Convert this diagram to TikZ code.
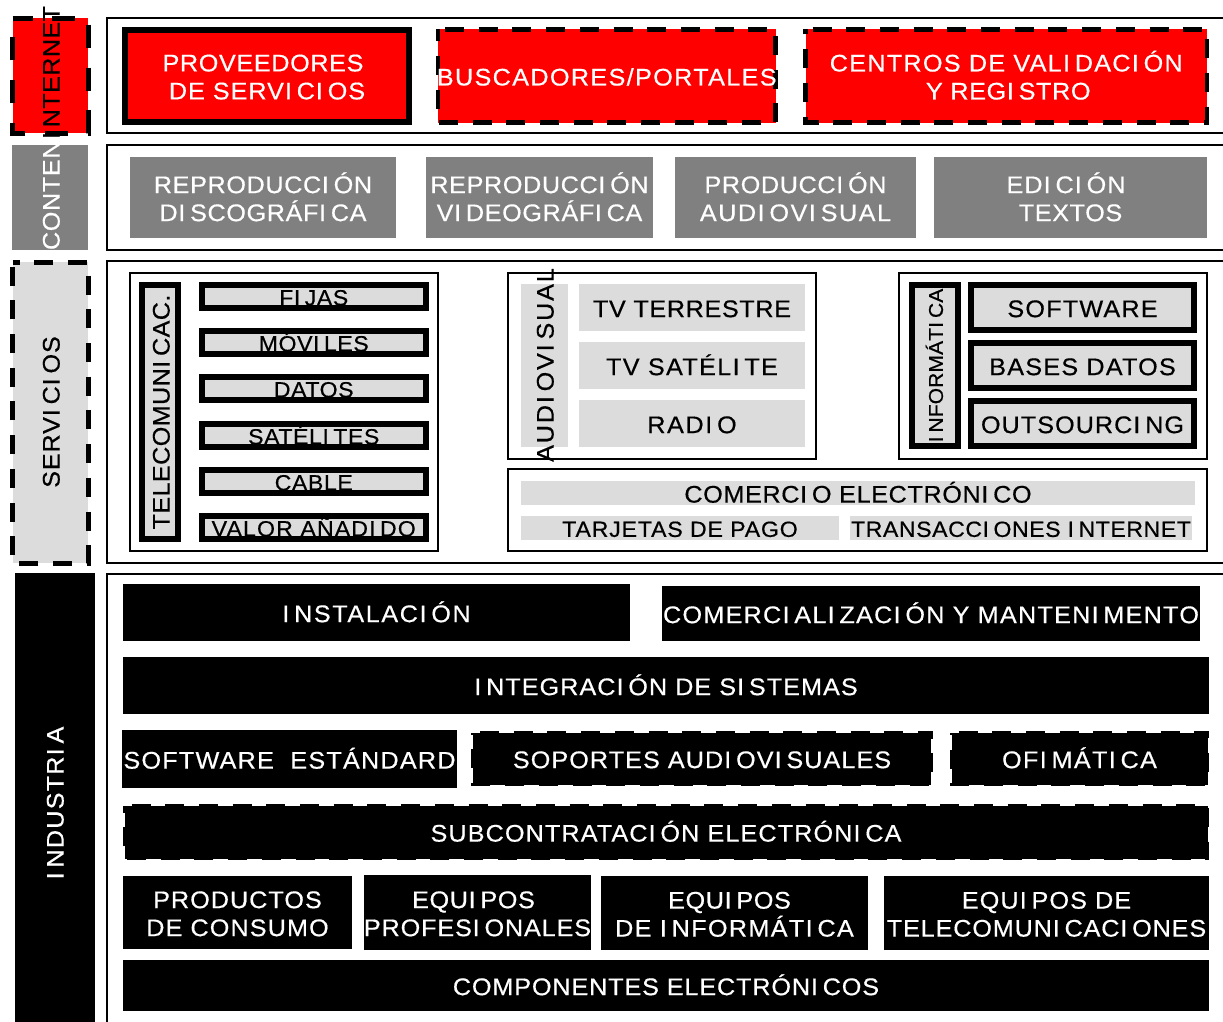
\documentclass[tikz,border=0pt]{standalone}
\usepackage{fontspec}
\setmainfont{Liberation Sans}[LetterSpace=2.6,FakeBold=0.5,FakeStretch=1.05]
\XeTeXinterchartokenstate=1
\newXeTeXintercharclass\Icls
\XeTeXcharclass`I=\Icls
\XeTeXinterchartoks\Icls 0={\kern.2em\relax}
\newcommand{\capln}[1]{\rule{0pt}{.716em}\smash{\raisebox{-1pt}{#1}}}
\newcommand{\fsz}[1]{\fontsize{#1}{28}\selectfont}
\newcommand{\tight}[1]{\pgfmathsetmacro{\lsp}{#1-3.4}\addfontfeatures{LetterSpace=\lsp}}
\definecolor{graybox}{RGB}{128,128,128}
\definecolor{lightbox}{RGB}{220,220,220}
\tikzset{
  x=1pt,y=-1pt,
  base/.style={inner sep=0pt,outer sep=0pt,align=center,font=\fsz{24}},
  frame/.style={base,draw=black,line width=1.6pt,fill=white},
  redthick/.style={base,fill=red,draw=black,line width=6pt,text=white},
  redfill/.style={base,fill=red,text=white},
  grayb/.style={base,fill=graybox,text=white},
  light/.style={base,fill=lightbox,text=black},
  lightthick/.style={base,fill=lightbox,draw=black,line width=6pt,text=black},
  blk/.style={base,fill=black,text=white},
  edgeA/.style={draw=black,line width=4.5pt,dash pattern=on 19pt off 14.7pt,dash phase=26.7pt},
  edgeB/.style={draw=black,line width=3.5pt,dash pattern=on 19pt off 14.7pt,dash phase=26.7pt},
  edgeI/.style={draw=black,line width=5pt,dash pattern=on 23pt off 19.7pt,dash phase=3pt},
  edgeS/.style={draw=black,line width=5pt,dash pattern=on 19pt off 14.7pt,dash phase=12pt},
}
% name, x0, y0, x1, y1, style, text
\newcommand{\bx}[7]{%
  \pgfmathsetmacro{\bw}{#4-#2}\pgfmathsetmacro{\bh}{#5-#3}%
  \pgfmathsetmacro{\cx}{(#2+#4)/2}\pgfmathsetmacro{\cy}{(#3+#5)/2}%
  \node[#6,minimum width=\bw pt,minimum height=\bh pt] (#1) at (\cx,\cy) {#7};}
% rotated label box
\newcommand{\bxr}[7]{%
  \pgfmathsetmacro{\bw}{#5-#3}\pgfmathsetmacro{\bh}{#4-#2}%
  \pgfmathsetmacro{\cx}{(#2+#4)/2}\pgfmathsetmacro{\cy}{(#3+#5)/2}%
  \node[#6,rotate=90,minimum width=\bw pt,minimum height=\bh pt] (#1) at (\cx,\cy) {#7};}
% dashed box: filled shape, clockwise dashed edge from the top left, text on top
\newcommand{\dbx}[8]{%
  \bx{#1}{#2}{#3}{#4}{#5}{#6}{}%
  \draw[#7] (#1.north west) -- (#1.north east) -- (#1.south east) -- (#1.south west) -- cycle;%
  \node[#6,fill=none] (#1t) at (#1) {#8};}
\begin{document}
\begin{tikzpicture}
\useasboundingbox (0,0) rectangle (1223,1021);
% outer frames
\bx{f1}{107}{18}{1235}{133}{frame}{}
\bx{f2}{107}{145}{1235}{250}{frame}{}
\bx{f3}{107}{261}{1235}{563}{frame}{}
\bx{f4}{107}{574}{1235}{1040}{frame}{}
% side labels
\node[base,fill=graybox,minimum width=105pt,minimum height=76pt,rotate=90] (sc) at (50,197.5) {};
\node[base,text=white,rotate=90,anchor=west] (tc) at (50,250) {\capln{CONTENIDOS}};
\bx{si}{12.5}{18}{88}{133}{base,fill=red}{}
\draw[edgeI] (si.north west) -- (si.north east) -- (si.south east) -- (si.south west) -- cycle;
\node[base,rotate=90,text=black] (ti) at (50,72.5) {\capln{\tight{5}INTERNET}};
\bx{ss}{12.5}{262}{88}{563}{base,fill=lightbox}{}
\draw[edgeS] (ss.north west) -- (ss.north east) -- (ss.south east) -- (ss.south west) -- cycle;
\node[base,rotate=90,text=black] (ts) at (50,412) {\capln{\tight{7}SERVICIOS}};
\bxr{sn}{15}{573}{95}{1030}{blk}{}
\node[base,rotate=90,text=white] (tn) at (54,803) {\capln{\tight{8.5}INDUSTRIA}};
% internet row
\bx{a1}{125}{29.5}{409}{122}{redthick}{\capln{PROVEEDORES\kern8pt}\\\capln{\tight{7.5}DE SERVICIOS}}
\dbx{a2}{438}{29.3}{775.5}{122.5}{redfill}{edgeA}{\capln{\tight{9}BUSCADORES/PORTALES}}
\dbx{a3}{805.5}{29.3}{1207}{122.5}{redfill}{edgeA}{\capln{\tight{8.7}CENTROS DE VALIDACIÓN}\\\capln{\,Y REGISTRO}}
% contents row
\bx{b1}{130}{157}{396}{238}{grayb}{\capln{REPRODUCCIÓN}\\\capln{DISCOGRÁFICA}}
\bx{b2}{426}{157}{653}{238}{grayb}{\capln{REPRODUCCIÓN}\\\capln{VIDEOGRÁFICA}}
\bx{b3}{675}{157}{916}{238}{grayb}{\capln{PRODUCCIÓN}\\\capln{\tight{9.7}AUDIOVISUAL}}
\bx{b4}{934}{157}{1207}{238}{grayb}{\capln{\tight{8}EDICIÓN\kern9pt}\\\capln{TEXTOS}}
% telecom
\bx{g1}{130}{273}{438}{551}{frame}{}
\bxr{c0}{142}{285}{178}{539}{lightthick}{\capln{\tight{5}TELECOMUNICAC.}}
\bx{c1}{201.5}{285}{426}{308}{lightthick,font=\fsz{22}}{\capln{FIJAS}}
\bx{c2}{201.5}{331}{426}{354}{lightthick,font=\fsz{22}}{\capln{MÓVILES}}
\bx{c3}{201.5}{377}{426}{400}{lightthick,font=\fsz{22}}{\capln{DATOS}}
\bx{c4}{201.5}{424}{426}{447}{lightthick,font=\fsz{22}}{\capln{SATÉLITES}}
\bx{c5}{201.5}{470}{426}{493}{lightthick,font=\fsz{22}}{\capln{CABLE}}
\bx{c6}{201.5}{516}{426}{539}{lightthick,font=\fsz{22}}{\capln{\tight{8.6}VALOR AÑADIDO}}
% audiovisual
\bx{g2}{508}{273}{816}{459}{frame}{}
\bxr{d0}{521}{284}{568}{447}{light}{}
\node[base,rotate=90] (td) at (544,365) {\capln{\tight{11}AUDIOVISUAL}};
\bx{d1}{579}{284}{805}{331}{light}{\capln{TV TERRESTRE}}
\bx{d2}{579}{342}{805}{389}{light}{\capln{\tight{9}TV SATÉLITE}}
\bx{d3}{579}{400}{805}{447}{light}{\capln{\tight{10}RADIO}}
% informatica
\bx{g3}{899}{273}{1207}{459}{frame}{}
\bxr{e0}{911.5}{285}{958}{446}{lightthick,font=\fsz{20}}{\capln{\tight{4}INFORMÁTICA}}
\bx{e1}{971}{285}{1194}{330}{lightthick}{\capln{\tight{8.4}SOFTWARE}}
\bx{e2}{971}{343}{1194}{388}{lightthick}{\capln{\tight{8.5}BASES DATOS}}
\bx{e3}{971}{401}{1194}{446}{lightthick}{\capln{\tight{7.7}OUTSOURCING}}
% commerce
\bx{g4}{508}{469}{1207}{551}{frame}{}
\bx{h1}{521}{481}{1195}{505}{light}{\capln{COMERCIO ELECTRÓNICO}}
\bx{h2}{521}{516}{839}{540}{light,font=\fsz{22}}{\capln{\tight{7.2}TARJETAS DE PAGO}}
\bx{h3}{850}{516}{1192}{540}{light,font=\fsz{22}}{\capln{TRANSACCIONES INTERNET}}
% industry
\bx{i1}{123}{584}{630}{641}{blk}{\capln{\tight{10}INSTALACIÓN}}
\bx{i2}{662}{586}{1200}{641}{blk}{\capln{\tight{8.6}COMERCIALIZACIÓN Y MANTENIMENTO}}
\bx{i3}{123}{657}{1209}{714}{blk}{\capln{\tight{7.7}INTEGRACIÓN DE SISTEMAS}}
\bx{i4}{122}{730}{457}{788}{blk}{\capln{\tight{8.5}SOFTWARE\ \ ESTÁNDARD}}
\dbx{i5}{473}{732.5}{931}{784.5}{blk}{edgeB}{\capln{\tight{7.8}SOPORTES AUDIOVISUALES}}
\dbx{i6}{951.5}{732.5}{1207.5}{784.5}{blk}{edgeB}{\capln{\tight{9}OFIMÁTICA}}
\dbx{i7}{124.5}{805.5}{1207.5}{858.5}{blk}{edgeB}{\capln{\tight{8}SUBCONTRATACIÓN ELECTRÓNICA}}
\bx{i8}{123}{876}{352}{949}{blk}{\capln{\tight{7.6}PRODUCTOS}\\\capln{\tight{8}DE CONSUMO}}
\bx{i9}{364}{875}{591}{950}{blk}{\capln{EQUIPOS\kern8pt}\\\capln{\tight{7}PROFESIONALES}}
\bx{i10}{601}{876}{868}{950}{blk}{\capln{EQUIPOS\kern10pt}\\\capln{\tight{9}DE INFORMÁTICA}}
\bx{i11}{884}{876}{1209}{950}{blk}{\capln{\tight{8}EQUIPOS DE}\\\capln{\tight{7}TELECOMUNICACIONES}}
\bx{i12}{123}{960}{1209}{1011}{blk}{\capln{\tight{7}COMPONENTES ELECTRÓNICOS}}
\end{tikzpicture}
\end{document}
